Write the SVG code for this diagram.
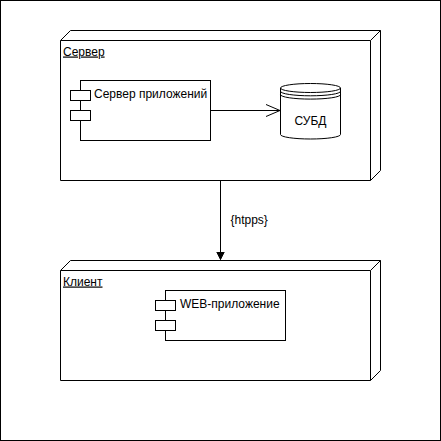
<svg xmlns="http://www.w3.org/2000/svg" width="441" height="441" viewBox="0 0 441 441">
<defs>
<style>
.ln{fill:none;stroke:#000;stroke-width:1}
.bx{fill:#fff;stroke:#000;stroke-width:1}
.t{font-family:"Liberation Sans",Arial,sans-serif;font-size:12px;fill:#000}
.u{text-decoration:underline}
</style>
<marker id="open" markerWidth="16" markerHeight="14" refX="15" refY="7" orient="auto" markerUnits="userSpaceOnUse">
<path d="M1,1 L15,7 L1,13" fill="none" stroke="#000" stroke-width="1"/>
</marker>
<marker id="block" markerWidth="10" markerHeight="10" refX="8" refY="4" orient="auto" markerUnits="userSpaceOnUse">
<path d="M0,0 L8,4 L0,8 Z" fill="#000" stroke="#000" stroke-width="1"/>
</marker>
</defs>
<rect x="0.5" y="0.5" width="440" height="440" fill="#fff" stroke="#000"/>
<g id="server">
<path class="bx" d="M60.5,180.5 L60.5,40.5 L70.5,30.5 L380.5,30.5 L380.5,170.5 L370.5,180.5 Z"/>
<path class="ln" d="M60.5,40.5 L370.5,40.5 L380.5,30.5 M370.5,40.5 L370.5,180.5"/>
<text class="t u" x="63" y="55.5">Сервер</text>
</g>
<g id="appserver">
<rect class="bx" x="80.5" y="80.5" width="130" height="60"/>
<rect class="bx" x="70.5" y="90.5" width="20" height="10"/>
<rect class="bx" x="70.5" y="110.5" width="20" height="10"/>
<text class="t" x="94" y="98">Сервер приложений</text>
</g>
<g id="dbms">
<path class="bx" d="M280.5,88 A30,4.5 0 0 1 340.5,88 L340.5,134.5 A30,4.5 0 0 1 280.5,134.5 Z"/>
<path class="ln" d="M280.5,88 A30,4.5 0 0 0 340.5,88 M280.5,91.3 A30,4.5 0 0 0 340.5,91.3 M280.5,94.6 A30,4.5 0 0 0 340.5,94.6"/>
<text class="t" x="310.5" y="124.5" text-anchor="middle">СУБД</text>
</g>
<g id="client">
<path class="bx" d="M60.5,380.5 L60.5,270.5 L70.5,260.5 L380.5,260.5 L380.5,370.5 L370.5,380.5 Z"/>
<path class="ln" d="M60.5,270.5 L370.5,270.5 L380.5,260.5 M370.5,270.5 L370.5,380.5"/>
<text class="t u" x="63" y="285.5">Клиент</text>
</g>
<g id="webapp">
<rect class="bx" x="165.5" y="290.5" width="120" height="50"/>
<rect class="bx" x="155.5" y="300.5" width="20" height="10"/>
<rect class="bx" x="155.5" y="320.5" width="20" height="10"/>
<text class="t" x="180" y="307.5">WEB-приложение</text>
</g>
<g id="connectors">
<path class="ln" d="M210.5,110.5 L280,110.5" marker-end="url(#open)"/>
<path class="ln" d="M220.5,180.5 L220.5,259.5" marker-end="url(#block)"/>
<text class="t" x="230.5" y="224">{htpps}</text>
</g>
</svg>
